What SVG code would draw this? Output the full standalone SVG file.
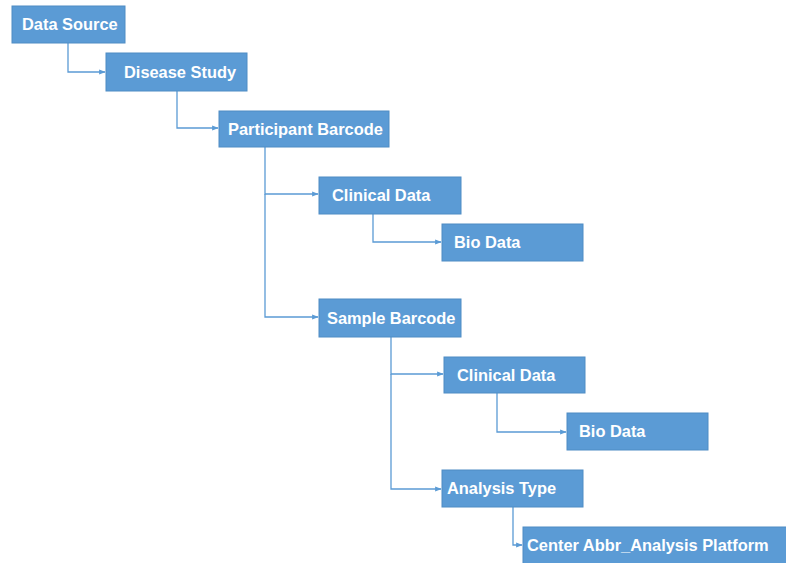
<svg xmlns="http://www.w3.org/2000/svg" width="786" height="563" viewBox="0 0 786 563">
<style>
.box{fill:#5B9BD5;stroke:#4F8CC4;stroke-width:1}
.lbl{font-family:"Liberation Sans",Arial,sans-serif;font-weight:bold;font-size:16.4px;fill:#FFFFFF}
.con{fill:none;stroke:#5B9BD5;stroke-width:1.3;marker-end:url(#arr)}
</style>
<defs>
<marker id="arr" viewBox="0 0 10 10" refX="9" refY="5" markerWidth="5" markerHeight="5" orient="auto" markerUnits="strokeWidth">
<path d="M0,1 L10,5 L0,9 z" fill="#5B9BD5"/>
</marker>
</defs>
<rect width="786" height="563" fill="#FFFFFF"/>
<g id="connectors">
<path class="con" d="M68,43 V72 H105"/>
<path class="con" d="M177,91 V128 H218"/>
<path class="con" d="M265,147 V194 H318"/>
<path class="con" d="M265,194 V317 H318"/>
<path class="con" d="M373,214 V242 H441"/>
<path class="con" d="M391,337 V374 H443"/>
<path class="con" d="M391,374 V489 H441"/>
<path class="con" d="M497,393 V432 H566"/>
<path class="con" d="M513,507 V545 H522"/>
</g>
<g id="data-source"><rect class="box" x="12" y="6" width="113" height="37"/><text class="lbl" x="22" y="30">Data Source</text></g>
<g id="disease-study"><rect class="box" x="106" y="53" width="141" height="38"/><text class="lbl" x="124" y="78">Disease Study</text></g>
<g id="participant-barcode"><rect class="box" x="219" y="111" width="170" height="36"/><text class="lbl" x="228" y="135">Participant Barcode</text></g>
<g id="clinical-data-1"><rect class="box" x="319" y="177" width="142" height="37"/><text class="lbl" x="332" y="201">Clinical Data</text></g>
<g id="bio-data-1"><rect class="box" x="442" y="224" width="141" height="37"/><text class="lbl" x="454" y="248">Bio Data</text></g>
<g id="sample-barcode"><rect class="box" x="319" y="299" width="142" height="38"/><text class="lbl" x="327" y="324">Sample Barcode</text></g>
<g id="clinical-data-2"><rect class="box" x="444" y="357" width="141" height="36"/><text class="lbl" x="457" y="381">Clinical Data</text></g>
<g id="bio-data-2"><rect class="box" x="567" y="413" width="141" height="37"/><text class="lbl" x="579" y="437">Bio Data</text></g>
<g id="analysis-type"><rect class="box" x="442" y="470" width="141" height="37"/><text class="lbl" x="447" y="494">Analysis Type</text></g>
<g id="center-abbr"><rect class="box" x="523" y="527" width="270" height="40"/><text class="lbl" x="527" y="551">Center Abbr_Analysis Platform</text></g>
</svg>
